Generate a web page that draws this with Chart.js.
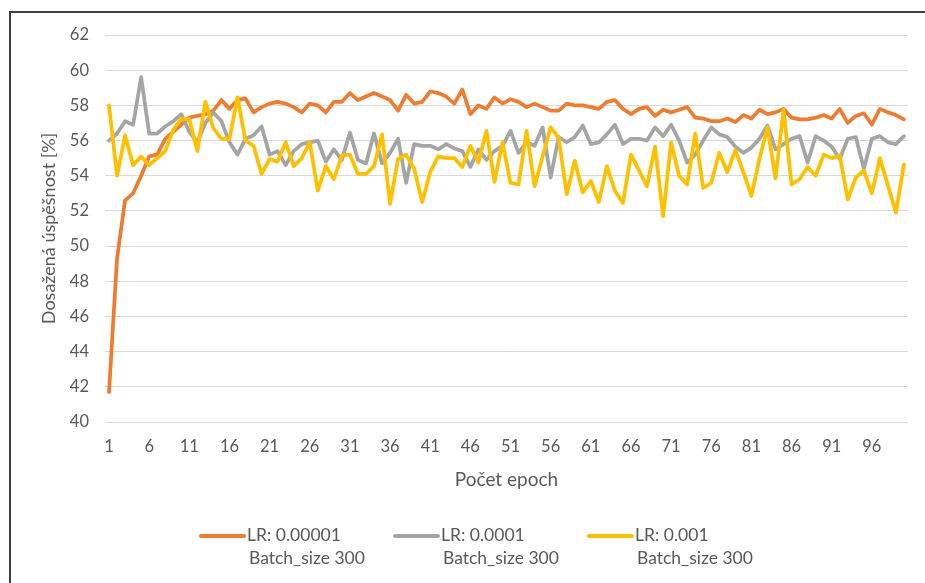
<!DOCTYPE html>
<html>
<head>
<meta charset="utf-8">
<script src="https://cdn.jsdelivr.net/npm/chart.js@4.4.1/dist/chart.umd.min.js"></script>
<style>
  html, body { margin: 0; padding: 0; background: #ffffff; }
  #wrap { width: 925px; height: 583px; position: relative; }
</style>
</head>
<body>
<div id="wrap"><canvas id="chart" width="925" height="583"></canvas></div>
<script>
// Training epochs (x categories)
const epochs = [
  1, 2, 3, 4, 5, 6, 7, 8, 9, 10, 11, 12, 13, 14, 15, 16, 17, 18, 19, 20,
  21, 22, 23, 24, 25, 26, 27, 28, 29, 30, 31, 32, 33, 34, 35, 36, 37, 38, 39, 40,
  41, 42, 43, 44, 45, 46, 47, 48, 49, 50, 51, 52, 53, 54, 55, 56, 57, 58, 59, 60,
  61, 62, 63, 64, 65, 66, 67, 68, 69, 70, 71, 72, 73, 74, 75, 76, 77, 78, 79, 80,
  81, 82, 83, 84, 85, 86, 87, 88, 89, 90, 91, 92, 93, 94, 95, 96, 97, 98, 99, 100
];

// Epochs that carry a tick label
const epochTicks = [1, 6, 11, 16, 21, 26, 31, 36, 41, 46, 51, 56, 61, 66, 71, 76, 81, 86, 91, 96];

// Accuracy tick values on the y axis [%]
const accuracyTicks = [40, 42, 44, 46, 48, 50, 52, 54, 56, 58, 60, 62];

// Achieved accuracy [%], learning rate 0.00001
const accLr00001 = [
  41.7, 49.3, 52.6, 53.0, 54.0, 55.1, 55.2, 56.1, 56.5, 56.9,
  57.3, 57.4, 57.5, 57.7, 58.3, 57.8, 58.3, 58.4, 57.6, 57.9,
  58.1, 58.2, 58.1, 57.9, 57.6, 58.1, 58.0, 57.6, 58.2, 58.2,
  58.7, 58.3, 58.5, 58.7, 58.5, 58.3, 57.7, 58.6, 58.1, 58.2,
  58.8, 58.7, 58.5, 58.1, 58.9, 57.5, 58.0, 57.8, 58.45, 58.1,
  58.35, 58.2, 57.9, 58.1, 57.9, 57.7, 57.7, 58.1, 58.0, 58.0,
  57.9, 57.8, 58.2, 58.3, 57.8, 57.5, 57.8, 57.9, 57.4, 57.75,
  57.6, 57.75, 57.9, 57.3, 57.25, 57.1, 57.1, 57.25, 57.05, 57.45,
  57.25, 57.75, 57.5, 57.6, 57.8, 57.3, 57.2, 57.2, 57.3, 57.45,
  57.25, 57.8, 57.0, 57.4, 57.55, 56.9, 57.8, 57.6, 57.45, 57.2
];

// Achieved accuracy [%], learning rate 0.0001
const accLr0001 = [
  56.0, 56.4, 57.1, 56.9, 59.6, 56.4, 56.4, 56.8, 57.1, 57.5,
  56.5, 55.9, 57.0, 57.6, 57.1, 55.9, 55.2, 56.1, 56.3, 56.8,
  55.2, 55.4, 54.6, 55.4, 55.8, 55.9, 56.0, 54.8, 55.5, 54.9,
  56.45, 54.9, 54.7, 56.4, 54.7, 55.3, 56.1, 53.6, 55.8, 55.7,
  55.7, 55.5, 55.8, 55.55, 55.4, 54.5, 55.5, 54.9, 55.4, 55.7,
  56.55, 55.3, 55.9, 55.7, 56.75, 53.9, 56.2, 55.9, 56.2, 56.85,
  55.8, 55.9, 56.35, 56.9, 55.8, 56.1, 56.1, 56.0, 56.75, 56.25,
  56.9, 56.0, 54.75, 55.2, 56.0, 56.75, 56.35, 56.2, 55.65, 55.3,
  55.6, 56.1, 56.85, 55.5, 55.8, 56.1, 56.25, 54.75, 56.25, 56.0,
  55.65, 54.95, 56.1, 56.2, 54.4, 56.1, 56.25, 55.9, 55.8, 56.25
];

// Achieved accuracy [%], learning rate 0.001
const accLr001 = [
  58.0, 54.0, 56.3, 54.6, 55.1, 54.6, 55.0, 55.4, 56.6, 57.25,
  57.2, 55.4, 58.2, 56.7, 56.1, 56.1, 58.45, 56.0, 55.7, 54.1,
  54.95, 54.8, 55.9, 54.55, 55.0, 55.9, 53.15, 54.55, 53.8, 55.15,
  55.2, 54.1, 54.1, 54.55, 56.35, 52.4, 54.95, 55.2, 54.4, 52.5,
  54.2, 55.1, 55.0, 55.0, 54.5, 55.7, 54.75, 56.55, 53.65, 55.9,
  53.6, 53.5, 56.55, 53.4, 55.1, 56.75, 56.15, 52.95, 54.85, 53.05,
  53.7, 52.5, 54.55, 53.15, 52.45, 55.2, 54.3, 53.4, 55.65, 51.7,
  55.9, 54.0, 53.5, 56.4, 53.3, 53.6, 55.3, 54.2, 55.45, 54.2,
  52.85, 54.95, 56.75, 53.85, 57.75, 53.5, 53.8, 54.5, 54.0, 55.2,
  55.0, 55.15, 52.65, 53.9, 54.3, 53.0, 55.0, 53.45, 51.9, 54.65
];

const seriesNames = ['LR: 0.00001', 'LR: 0.0001', 'LR: 0.001'];
const batchNote = 'Batch_size 300';
const seriesColors = ['#ED7D31', '#A5A5A5', '#FFC000'];

const TEXT = '#595959';
const FONT = 'Lato, "Open Sans", "DejaVu Sans", sans-serif';

// Outer frame and the two-line legend under the plot
const frameAndLegend = {
  id: 'frameAndLegend',
  beforeDraw(chart) {
    const ctx = chart.ctx;
    ctx.save();
    ctx.fillStyle = '#ffffff';
    ctx.fillRect(0, 0, chart.width, chart.height);
    ctx.restore();
  },
  afterDraw(chart) {
    const ctx = chart.ctx;
    ctx.save();
    ctx.strokeStyle = '#404040';
    ctx.lineWidth = 2;
    ctx.beginPath();
    ctx.moveTo(10, chart.height);
    ctx.lineTo(10, 12);
    ctx.lineTo(chart.width, 12);
    ctx.stroke();

    const starts = [201, 395, 589];
    const lineY = 536;
    ctx.font = '17.5px ' + FONT;
    ctx.fillStyle = TEXT;
    ctx.textBaseline = 'middle';
    ctx.textAlign = 'left';
    chart.data.datasets.forEach((ds, i) => {
      const x0 = starts[i];
      ctx.strokeStyle = ds.borderColor;
      ctx.lineWidth = 4;
      ctx.lineCap = 'round';
      ctx.beginPath();
      ctx.moveTo(x0, lineY);
      ctx.lineTo(x0 + 43, lineY);
      ctx.stroke();
      ctx.fillText(seriesNames[i], x0 + 46, lineY - 1);
      ctx.fillText(batchNote, x0 + 48, lineY + 22);
    });
    ctx.restore();
  }
};

const datasets = [accLr00001, accLr0001, accLr001].map((values, i) => ({
  label: seriesNames[i] + ' ' + batchNote,
  data: values,
  borderColor: seriesColors[i],
  backgroundColor: seriesColors[i],
  order: 3 - i
}));

new Chart(document.getElementById('chart'), {
  type: 'line',
  data: { labels: epochs, datasets },
  plugins: [frameAndLegend],
  options: {
    responsive: false,
    animation: false,
    devicePixelRatio: 1,
    layout: { padding: { left: 0, right: 17, top: 35, bottom: 0 } },
    plugins: { legend: { display: false }, tooltip: { enabled: false } },
    elements: {
      point: { radius: 0, hoverRadius: 0 },
      line: { borderWidth: 3.75, tension: 0, borderCapStyle: 'round', borderJoinStyle: 'round', fill: false }
    },
    scales: {
      x: {
        type: 'category',
        offset: true,
        grid: { display: false, drawTicks: false },
        border: { display: false },
        ticks: {
          autoSkip: false,
          maxRotation: 0,
          minRotation: 0,
          padding: 15,
          color: TEXT,
          font: { family: FONT, size: 16.5 },
          callback(value, index) {
            const ep = epochs[index];
            return epochTicks.includes(ep) ? String(ep) : '';
          }
        },
        title: {
          display: true,
          text: 'Počet epoch',
          color: TEXT,
          font: { family: FONT, size: 19 },
          padding: { top: 0, bottom: 92 }
        },
        afterFit(scale) { scale.height = 161; }
      },
      y: {
        min: accuracyTicks[0],
        max: accuracyTicks[accuracyTicks.length - 1],
        afterBuildTicks(scale) { scale.ticks = accuracyTicks.map(v => ({ value: v })); },
        grid: { color: '#D9D9D9', lineWidth: 1, drawTicks: false },
        border: { display: false },
        ticks: { padding: 16, color: TEXT, font: { family: FONT, size: 16.5 } },
        title: {
          display: true,
          text: 'Dosažená úspěšnost [%]',
          color: TEXT,
          font: { family: FONT, size: 18 },
          padding: { top: 38, bottom: 0 }
        },
        afterFit(scale) { scale.width = 105; }
      }
    }
  }
});
</script>
</body>
</html>
